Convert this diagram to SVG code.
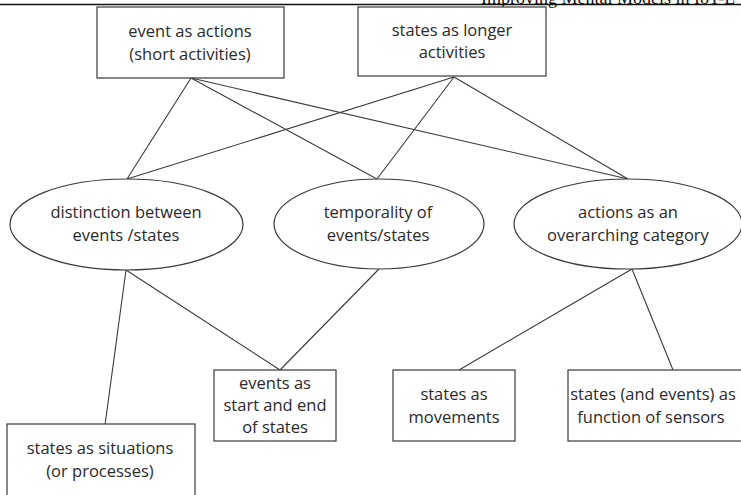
<svg xmlns="http://www.w3.org/2000/svg" width="741" height="495" viewBox="0 0 741 495">
<style>
.node rect, .node ellipse { fill: #ffffff; stroke: #3a3a3a; stroke-width: 1.2; }
.node text { font-family: "Open Sans", "Liberation Sans", sans-serif; font-size: 16.5px; fill: #2a2a2a; text-anchor: middle; }
#connectors line { stroke: #3a3a3a; stroke-width: 1.1; }
.hdr { font-family: "Liberation Serif", serif; font-size: 18px; fill: #111; }
</style>
<rect x="0" y="0" width="741" height="495" fill="#ffffff"/>
<g id="header">
<text class="hdr" x="481" y="4">Improving Mental Models in IoT-L</text>
<line x1="0" y1="4.5" x2="741" y2="4.5" stroke="#111" stroke-width="1.4"/>
</g>
<g id="connectors">
<line x1="191" y1="78" x2="127" y2="179"/>
<line x1="191" y1="78" x2="377" y2="179"/>
<line x1="191" y1="78" x2="628" y2="179"/>
<line x1="454" y1="77" x2="127" y2="179"/>
<line x1="454" y1="77" x2="377" y2="179"/>
<line x1="454" y1="77" x2="628" y2="179"/>
<line x1="126" y1="270" x2="105" y2="425"/>
<line x1="126" y1="270" x2="280" y2="370"/>
<line x1="379" y1="269" x2="280" y2="370"/>
<line x1="632" y1="269" x2="459" y2="370"/>
<line x1="632" y1="269" x2="673" y2="370"/>
</g>
<g id="event-actions" class="node">
<rect x="97" y="7" width="187" height="71"/>
<text x="190" y="37">event as actions</text>
<text x="190" y="60">(short activities)</text>
</g>
<g id="states-longer" class="node">
<rect x="358" y="7" width="188" height="69"/>
<text x="452" y="36">states as longer</text>
<text x="452" y="58">activities</text>
</g>
<g id="distinction" class="node">
<ellipse cx="126.5" cy="224.5" rx="116.5" ry="45.5"/>
<text x="126" y="218">distinction between</text>
<text x="126" y="241">events /states</text>
</g>
<g id="temporality" class="node">
<ellipse cx="379" cy="224" rx="105" ry="45"/>
<text x="378" y="218">temporality of</text>
<text x="378" y="241">events/states</text>
</g>
<g id="actions-category" class="node">
<ellipse cx="628" cy="224" rx="114" ry="45"/>
<text x="628" y="218">actions as an</text>
<text x="628" y="241">overarching category</text>
</g>
<g id="events-start-end" class="node">
<rect x="214" y="370" width="122" height="71"/>
<text x="275" y="389">events as</text>
<text x="275" y="411">start and end</text>
<text x="275" y="433">of states</text>
</g>
<g id="states-movements" class="node">
<rect x="393" y="370" width="122" height="71"/>
<text x="454" y="400">states as</text>
<text x="454" y="423">movements</text>
</g>
<g id="states-sensors" class="node">
<rect x="568" y="370" width="200" height="71"/>
<text x="653" y="400">states (and events) as</text>
<text x="651" y="423">function of sensors</text>
</g>
<g id="states-situations" class="node">
<rect x="7" y="424" width="188" height="80"/>
<text x="100" y="454">states as situations</text>
<text x="100" y="477">(or processes)</text>
</g>
</svg>
